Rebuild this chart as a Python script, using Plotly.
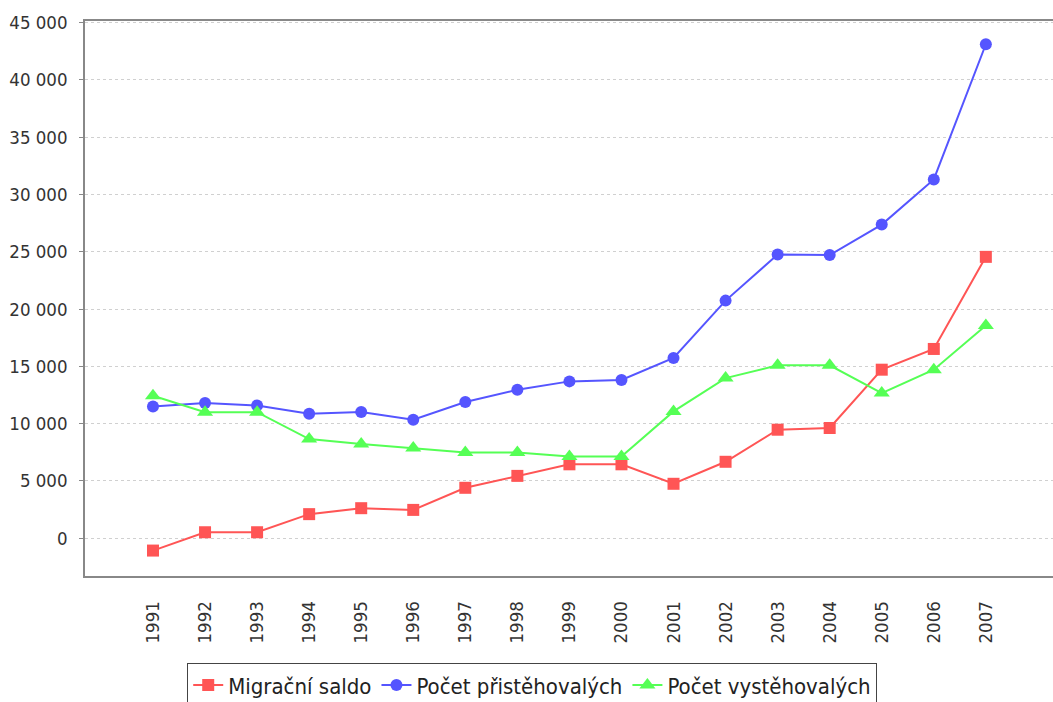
import plotly.graph_objects as go

years = [str(y) for y in range(1991, 2008)]
saldo = [-1080, 520, 520, 2100, 2620, 2470, 4400, 5440, 6450, 6450, 4750, 6670, 9470, 9620, 14710, 16520, 24560]
prist = [11500, 11800, 11590, 10860, 11010, 10340, 11890, 12960, 13690, 13810, 15730, 20740, 24760, 24720, 27380, 31320, 43120]
vyst = [12440, 11000, 11000, 8650, 8220, 7870, 7480, 7480, 7130, 7130, 11070, 13980, 15090, 15090, 12670, 14710, 18560]

names = ["Migrační saldo", "Počet přistěhovalých", "Počet vystěhovalých"]
colors = ["#FF5555", "#5555FF", "#55FF55"]
symbols = ["square", "circle", "triangle-up"]
sizes = [12, 12, 14]
yticks = list(range(0, 45001, 5000))

FONT = "DejaVu Sans Condensed, DejaVu Sans, sans-serif"

fig = go.Figure()
for name, vals, c, s, sz in zip(names, [saldo, prist, vyst], colors, symbols, sizes):
    fig.add_trace(go.Scatter(
        x=years, y=vals, name=name, mode="lines+markers",
        line=dict(color=c, width=2),
        marker=dict(color=c, symbol=s, size=sz, line=dict(width=0)),
    ))

fig.update_layout(
    width=1053, height=702,
    margin=dict(l=85, r=0, t=21, b=126, autoexpand=False),
    paper_bgcolor="white", plot_bgcolor="white",
    separators=", ",
    font=dict(family=FONT, color="#404040"),
    showlegend=True,
    legend=dict(
        orientation="h", x=0.462, xanchor="center", y=-0.157, yanchor="top",
        bordercolor="#444444", borderwidth=1, bgcolor="white",
        font=dict(family=FONT, size=22, color="#222222"),
        itemwidth=30, tracegroupgap=0,
    ),
)
fig.update_xaxes(
    type="category", categoryorder="array", categoryarray=years,
    range=[-1.306, 17.29],
    showgrid=False, showline=True, linecolor="#888888", linewidth=1.5, mirror=True,
    ticks="", tickangle=-90, ticklabelstandoff=16,
    tickfont=dict(family=FONT, size=18.5, color="#333333"),
    zeroline=False, automargin=False,
)
fig.update_yaxes(
    range=[-3300, 45150], tickvals=yticks, tickformat=",d",
    showgrid=True, gridcolor="#D0D0D0", griddash="3px,3px", gridwidth=1,
    zeroline=False, automargin=False,
    showline=True, linecolor="#888888", linewidth=1.5,
    ticks="outside", ticklen=4, tickcolor="#888888", ticklabelstandoff=8,
    tickfont=dict(family=FONT, size=18.5, color="#333333"),
)

fig.write_html(
    "out.html",
    config={"displayModeBar": False},
    post_script="document.body.style.margin='0';document.body.style.overflow='hidden';",
)
